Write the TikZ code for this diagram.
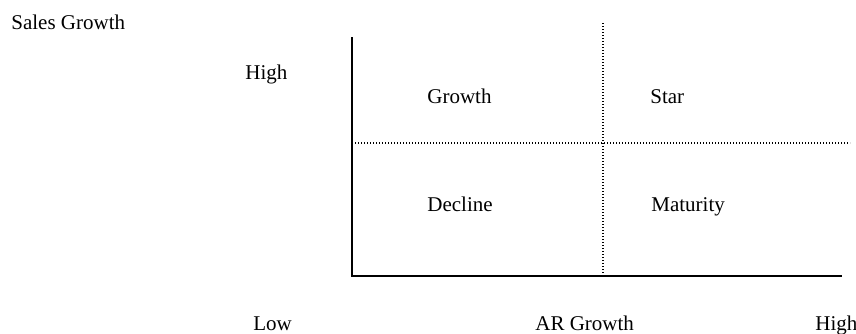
\documentclass[tikz,border=0pt]{standalone}
\usepackage{fontspec}
\setmainfont{Liberation Serif}
\usetikzlibrary{positioning}

\begin{document}
\begin{tikzpicture}[x=0.5pt,y=-0.5pt] %pixel-like units, y going down
\tikzstyle{lbl}=[inner sep=0pt,anchor=base west,font=\fontsize{10.5}{12}\selectfont]
\tikzstyle{axis}=[line width=1pt,black]
\tikzstyle{split}=[line width=0.7pt,dash pattern=on 0.6pt off 0.9pt,black]
\useasboundingbox (0,0) rectangle (856,333);

 % axes and quadrant lines
 \coordinate (origin) at (352,276);
 \coordinate (ytop) at (352,37);
 \coordinate (xend) at (842,276);
 \coordinate (vtop) at (603,23);
 \coordinate (vbot) at (603,276);
 \coordinate (hleft) at (352,143);
 \coordinate (hright) at (850,143);
 \draw[axis] (ytop) -- (origin) -- (xend);
 \draw[split] (vtop) -- (vbot);
 \draw[split] (hleft) -- (hright);

 % labels
 \node[lbl] (ytitle) at (11,29) {Sales Growth};
 \node[lbl] (yhigh) at (245,79) {High};
 \node[lbl] (growth) at (427,103) {Growth};
 \node[lbl] (star) at (650,103) {Star};
 \node[lbl] (decline) at (427,211) {Decline};
 \node[lbl] (maturity) at (651,211) {Maturity};
 \node[lbl] (xlow) at (253,330) {Low};
 \node[lbl] (xtitle) at (535,330) {AR Growth};
 \node[lbl] (xhigh) at (815,330) {High};
\end{tikzpicture}
\end{document}
